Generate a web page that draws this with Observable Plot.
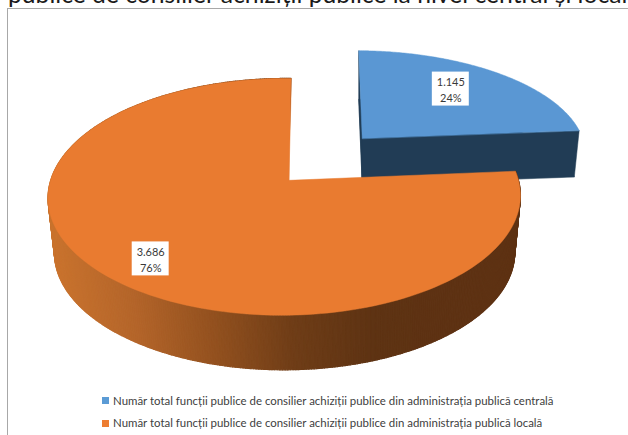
<!DOCTYPE html>
<html lang="ro">
<head>
<meta charset="utf-8">
<script src="https://cdn.jsdelivr.net/npm/d3@7"></script>
<script src="https://cdn.jsdelivr.net/npm/@observablehq/plot@0.6"></script>
<style>
  html, body { margin: 0; padding: 0; background: #fff; width: 628px; height: 435px; overflow: hidden; }
  body { font-family: Lato, "Open Sans", sans-serif; }
  #heading { height: 8px; overflow: hidden; position: relative; }
  #heading span { position: absolute; left: 8px; top: -21px; font-size: 24.7px; line-height: 30px; color: #1a1a1a; white-space: nowrap; }
  #frame { border-top: 1.5px solid #a8a8a8; border-left: 1.5px solid #a8a8a8; margin-left: 6.5px; height: 427px; position: relative; box-sizing: border-box; }
  #chart svg { display: block; }
  #legend { position: absolute; left: 94.5px; top: 380.5px; font-size: 11.45px; color: #404040; }
  #legend div { height: 22.6px; line-height: 22.6px; white-space: nowrap; display: flex; align-items: center; }
  #legend i { display: inline-block; width: 7px; height: 7px; margin-right: 4px; }
</style>
</head>
<body>
<div id="heading"><span>publice de consilier achiziții publice la nivel central și local</span></div>
<div id="frame">
  <div id="chart"></div>
  <div id="legend"></div>
</div>
<script>
// Public-procurement counsellor posts, central vs. local administration
const categories = [
  "Număr total funcții publice de consilier achiziții publice din administrația publică centrală",
  "Număr total funcții publice de consilier achiziții publice din administrația publică locală"
];
const values = [1145, 3686];
const topColors = ["#5a97d3", "#e97b30"];
const sideColor = "#213c55";
const legendColors = ["#5b9bd5", "#ed7d31"];
const labelRadii = [0.69, 0.81];
const labelTurns = [-0.06, -0.03];

// Shading of the rim, from its left end to its right end
const rimStops = ["#c9732e", "#b4652a", "#93511f", "#6f3d17", "#5e3313", "#5e3213"];

// Perspective discs: each slice has an upper and a lower plane
const tiltV = 0.139, tiltU = 0.02;
const planes = [
  {
    top:    {cx: 361, cy: 138, rx: 225, ry: 100, sh: -4},
    bottom: {cx: 361, cy: 184, rx: 220, ry: 97, sh: -4}
  },
  {
    top:    {cx: 288, cy: 180, rx: 234, ry: 116.2, sh: 2},
    bottom: {cx: 288, cy: 236, rx: 228, ry: 115, sh: 0}
  }
];
const project = (p, u, v) => {
  const w = 1 + tiltV * v + tiltU * u;
  return [p.cx + (p.rx * u + p.sh * v) / w, p.cy - p.ry * v / w];
};

const total = d3.sum(values);
const slices = [];
let start = 0;
values.forEach((value, i) => {
  const sweep = value / total * 2 * Math.PI;
  slices.push({i, value, a0: start, a1: start + sweep, mid: start + sweep / 2});
  start += sweep;
});

const onRim = (p, a, r = 1) => project(p, r * Math.sin(a), r * Math.cos(a));
const anglesOf = (s, n) => d3.range(0, n + 1).map((k) => s.a0 + (s.a1 - s.a0) * k / n);
const wedge = (s, p) => [project(p, 0, 0), ...anglesOf(s, 160).map((a) => onRim(p, a))];

const polygons = [];
const rimStrips = [];
const addTo = (list, id, color, pts) => {
  pts.forEach(([x, y]) => list.push({id, color, x, y}));
};

// The detached slice: underside, both cut faces, then its top
const blue = slices[0];
const bluePlanes = planes[0];
addTo(polygons, "b-under", sideColor, wedge(blue, bluePlanes.bottom));
for (const a of [blue.a0, blue.a1]) {
  addTo(polygons, `b-cut-${a}`, sideColor, [
    project(bluePlanes.top, 0, 0), onRim(bluePlanes.top, a),
    onRim(bluePlanes.bottom, a), project(bluePlanes.bottom, 0, 0)
  ]);
}
addTo(polygons, "b-top", topColors[0], wedge(blue, bluePlanes.top));

// The large slice: shaded rim strips, then its top
const orange = slices[1];
const orangePlanes = planes[1];
const shade = d3.scaleLinear().domain(d3.range(rimStops.length).map((k) => 50 + k * 80)).range(rimStops).clamp(true);
d3.pairs(anglesOf(orange, 480)).forEach(([a, b], k) => {
  const t0 = onRim(orangePlanes.top, a), t1 = onRim(orangePlanes.top, b);
  addTo(rimStrips, `o-rim-${k}`, shade((t0[0] + t1[0]) / 2), [t0, t1, onRim(orangePlanes.bottom, b), onRim(orangePlanes.bottom, a)]);
});
const topFace = [];
addTo(topFace, "o-top", topColors[1], wedge(orange, orangePlanes.top));

// Value labels sit on the top face of each slice
const labels = slices.map((s) => {
  const [x, y] = onRim(planes[s.i].top, s.mid + labelTurns[s.i], labelRadii[s.i]);
  return {
    x, y,
    text: `${d3.format(",")(s.value).replace(",", ".")}\n${Math.round(s.value / total * 100)}%`
  };
});

const face = {x: "x", y: "y", z: "id", fill: "color", stroke: "color", curve: "linear-closed"};
const chart = Plot.plot({
  width: 621,
  height: 375,
  margin: 0,
  x: {domain: [7, 628], range: [0, 621], axis: null},
  y: {domain: [9, 384], range: [0, 375], axis: null},
  color: {type: "identity"},
  marks: [
    Plot.line(polygons, {...face, strokeWidth: 0.5}),
    Plot.line(rimStrips, {...face, strokeWidth: 1.2}),
    Plot.line(topFace, {...face, strokeWidth: 0.5}),
    Plot.rect(labels, {x1: (d) => d.x - 18.5, x2: (d) => d.x + 18.5, y1: (d) => d.y - 17, y2: (d) => d.y + 17, fill: "white"}),
    Plot.text(labels, {x: "x", y: "y", text: "text", fontSize: 11, lineHeight: 1.4, fill: "#3a3a3a", fontFamily: "Lato"})
  ]
});
document.getElementById("chart").append(chart);

const legend = d3.select("#legend").selectAll("div").data(categories).join("div");
legend.append("i").style("background", (_, i) => legendColors[i]);
legend.append("span").text((d) => d);
</script>
</body>
</html>
